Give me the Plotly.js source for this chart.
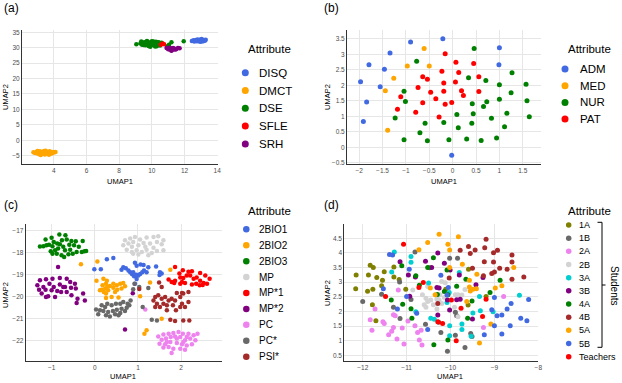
<!DOCTYPE html>
<html><head><meta charset="utf-8">
<script src="https://cdn.plot.ly/plotly-3.0.1.min.js"></script>
<style>html,body{margin:0;padding:0;background:#fff}#chart{width:622px;height:383px}</style>
</head><body><div id="chart"></div>
<script>
// ---------- Panel (a) ----------
const aCats = ['DISQ','DMCT','DSE','SFLE','SRH'];
const aColors = ['#4169E1','#FFA500','#008000','#FF0000','#800080'];
const a_DISQ_x = [12.45,12.55,12.6,12.7,12.75,12.8,12.85,12.9,12.95,13.0,13.05,13.1,13.15,13.2,13.25,13.3,12.65,12.9,13.1,13.0];
const a_DISQ_y = [32.2,32.4,32.0,32.5,32.1,32.7,32.3,32.0,32.6,32.2,32.8,32.4,32.1,32.5,32.3,32.6,32.3,32.5,32.2,31.9];
const a_DMCT_x = [2.75,2.85,2.95,3.0,3.05,3.1,3.15,3.2,3.25,3.3,3.35,3.4,3.45,3.5,3.55,3.6,3.65,3.7,3.75,3.8,3.85,3.9,3.95,4.0,4.1,3.2,3.5,3.7,3.0,3.35];
const a_DMCT_y = [-3.9,-4.1,-3.7,-4.3,-3.9,-4.5,-3.6,-4.0,-4.4,-3.8,-4.2,-3.5,-4.6,-4.0,-3.7,-4.3,-3.9,-4.1,-3.6,-4.4,-3.9,-4.2,-3.8,-4.0,-3.8,-4.8,-3.4,-4.7,-3.5,-4.0];
const a_DSE_x = [9.05,9.3,9.35,9.4,9.45,9.5,9.55,9.6,9.65,9.7,9.75,9.8,9.85,9.9,9.95,10.0,10.05,10.1,10.15,10.2,10.25,10.3,10.35,10.4,10.45,10.5,10.55,10.6,9.5,9.7,9.9,10.1,10.3,10.5,10.2,9.6,10.0,10.95,11.05,11.2,11.95,10.4];
const a_DSE_y = [31.1,31.4,32.0,31.0,31.6,31.2,31.8,30.8,31.5,31.1,31.9,30.6,31.3,31.7,31.0,32.1,31.4,30.8,31.6,31.2,31.9,30.5,31.3,31.7,31.0,31.5,31.2,31.6,30.9,32.2,30.3,32.0,31.0,30.7,30.4,31.3,30.9,30.5,31.0,31.8,32.1,31.8];
const a_SFLE_x = [10.55,10.65,10.75];
const a_SFLE_y = [31.0,31.35,31.15];
const a_SRH_x = [10.9,11.0,11.05,11.1,11.15,11.2,11.25,11.3,11.35,11.4,11.5,11.6,11.7,11.2,11.45];
const a_SRH_y = [29.9,29.5,30.0,29.4,29.8,29.2,29.7,29.9,29.4,29.7,29.6,29.9,29.8,29.0,29.4];

// ---------- Panel (b) ----------
const bCats = ['ADM','MED','NUR','PAT'];
const bColors = ['#4169E1','#FFA500','#008000','#FF0000'];
const b_ADM_x = [-0.9,-0.21,1.0,-1.34,-1.79,0.99,-1.46,-1.97,-1.55,-1.84,-1.91,-0.02];
const b_ADM_y = [3.40,3.51,3.22,3.05,2.67,2.67,2.52,2.12,1.96,1.46,0.83,-0.26];
const b_MED_x = [-0.61,-0.97,-0.5,-1.26,-1.44,-1.39];
const b_MED_y = [3.19,2.63,2.63,2.23,1.83,0.55];
const b_NUR_x = [0.46,-0.77,1.27,0.34,0.71,1.0,1.57,-1.04,1.25,-1.01,1.0,1.59,0.42,0.73,0.66,-1.23,0.09,0.44,1.16,1.64,0.83,-0.59,-0.19,0.41,0.12,1.11,-0.7,-1.04,-0.54,-0.08,0.3,0.61,0.94];
const b_NUR_y = [3.19,2.78,2.41,2.25,2.16,2.02,2.04,1.81,1.76,1.48,1.55,1.5,1.41,1.47,1.32,0.95,1.06,1.08,1.1,0.99,0.94,0.78,0.8,0.78,0.63,0.66,0.47,0.24,0.21,0.24,0.27,0.22,0.3];
const b_PAT_x = [-0.16,0.07,0.45,-0.23,0.13,-0.64,-0.54,0.56,-0.19,0.06,-0.74,-0.47,-0.19,0.19,0.56,-1.11,-0.36,0.23,-0.64,-0.02,-0.16,-1.18,-0.79,-0.29];
const b_PAT_y = [3.02,2.75,2.71,2.46,2.42,2.28,2.2,2.28,2.08,2.11,1.93,1.78,1.81,1.83,1.8,1.63,1.57,1.67,1.44,1.45,1.39,1.23,1.13,0.98];

// ---------- Panel (c) ----------
const cCats = ['2BIO1','2BIO2','2BIO3','MP','MP*1','MP*2','PC','PC*','PSI*'];
const cColors = ['#4169E1','#FFA500','#008000','#D3D3D3','#FF0000','#800080','#EE82EE','#696969','#A52A2A'];
const c_2BIO1_x = [-0.01,0.14,0.28,0.43,0.62,0.66,0.72,0.78,0.82,0.86,0.89,0.91,0.93,0.96,0.97,0.97,1.01,1.05,1.06,1.1,1.13,1.14,1.2,1.24,1.42,1.51,1.55,1.5,0.93];
const c_2BIO1_y = [-18.76,-18.76,-18.31,-18.25,-18.78,-18.67,-18.72,-18.82,-18.9,-18.98,-18.9,-19.08,-18.47,-19.01,-18.6,-19.2,-19.05,-18.98,-18.55,-18.9,-18.57,-18.82,-18.9,-18.67,-18.64,-18.9,-18.95,-19.02,-19.42];
const c_2BIO2_x = [0.2,0.28,0.26,0.18,0.29,0.35,0.24,0.16,0.43,0.51,0.59,0.66,0.7,0.62,0.52,0.47,0.26,0.39,0.55,0.26,0.12,0.21,0.31,0.43,-0.32,0.06,0.04,1.75,1.28,1.05,1.55,1.2,1.15];
const c_2BIO2_y = [-19.19,-19.29,-19.42,-19.49,-19.57,-19.52,-19.64,-19.69,-19.6,-19.49,-19.42,-19.39,-19.54,-19.64,-19.69,-19.8,-19.87,-20.02,-20.05,-20.07,-19.72,-19.8,-19.72,-19.42,-18.53,-18.41,-19.29,-18.78,-19.37,-19.99,-21.01,-21.54,-21.7];
const c_2BIO3_x = [-1.27,-1.19,-1.14,-1.12,-1.06,-1.02,-1.0,-0.98,-0.98,-0.95,-0.92,-0.88,-0.87,-0.85,-0.82,-0.81,-0.77,-0.76,-0.73,-0.71,-0.69,-0.68,-0.65,-0.61,-0.59,-0.57,-0.54,-0.51,-0.48,-0.44,-0.42,-0.37,-0.3,-0.28,-0.24,-0.2];
const c_2BIO3_y = [-17.73,-17.71,-17.41,-17.67,-17.64,-17.94,-17.33,-18.05,-17.71,-17.52,-17.9,-18.05,-17.59,-17.82,-17.18,-17.62,-18.12,-17.44,-17.74,-18.2,-17.9,-17.21,-17.41,-18.08,-17.64,-17.87,-17.47,-18.05,-17.67,-17.49,-17.97,-17.74,-17.97,-17.47,-17.94,-17.93];
const c_MP_x = [0.7,0.82,0.93,1.05,1.2,1.36,1.47,1.59,0.66,0.78,0.89,1.01,1.13,1.28,1.44,1.55,0.74,0.86,0.97,1.09,1.2,1.32,1.44,1.59,0.89,1.01,1.24,1.36,1.17,0.86];
const c_MP_y = [-17.44,-17.36,-17.29,-17.41,-17.32,-17.29,-17.26,-17.44,-17.67,-17.59,-17.52,-17.67,-17.56,-17.59,-17.52,-17.62,-17.87,-17.74,-17.9,-17.97,-17.87,-18.02,-17.93,-17.9,-18.05,-18.09,-18.12,-17.78,-17.74,-17.97];
const c_MP1_x = [1.86,2.04,2.25,2.44,2.56,2.66,1.71,1.78,1.86,1.98,2.05,2.13,2.02,2.09,2.21,2.29,2.36,2.44,2.52,2.6,2.35,2.25,2.43,1.84,1.98,2.5,2.17,1.96];
const c_MP1_y = [-18.66,-18.81,-18.85,-18.93,-19.04,-19.19,-19.23,-19.34,-19.29,-19.14,-19.16,-19.04,-19.34,-19.39,-19.04,-19.19,-19.14,-19.29,-19.39,-19.42,-19.42,-19.46,-19.49,-19.39,-19.42,-19.48,-18.88,-18.96];
const c_MP2_x = [-1.27,-1.13,-0.98,-0.81,-0.65,-1.33,-1.19,-1.05,-0.95,-0.81,-0.57,-0.46,-1.29,-1.14,-1.0,-0.87,-0.69,-0.55,-0.44,-1.23,-1.08,-0.92,-0.78,-0.65,-0.54,-0.27,-0.4,-0.23,-0.42,-1.13,-0.73,-0.85,0.7,0.88];
const c_MP2_y = [-19.26,-19.22,-19.19,-19.16,-19.19,-19.49,-19.57,-19.42,-19.57,-19.46,-19.34,-19.42,-19.69,-19.69,-19.72,-19.75,-19.57,-19.6,-19.64,-19.87,-19.99,-20.02,-19.8,-19.8,-19.95,-19.87,-20.1,-20.18,-20.3,-20.02,-19.57,-18.66,-21.5,-19.85];
const c_PC_x = [1.47,1.59,1.71,1.82,1.94,2.04,2.13,2.29,2.38,1.55,1.65,1.76,1.86,1.98,2.09,2.21,2.33,1.5,1.63,1.75,1.9,2.02,2.13,2.25,1.59,1.71,1.82,1.98,2.09,1.78,2.05,1.9,1.67,2.17,1.17];
const c_PC_y = [-21.82,-21.73,-21.7,-21.67,-21.62,-21.7,-21.85,-21.77,-21.7,-21.97,-21.92,-21.85,-21.82,-21.85,-22.0,-21.92,-22.0,-22.15,-22.18,-22.08,-22.12,-22.18,-22.23,-22.18,-22.33,-22.3,-22.38,-22.38,-22.43,-22.58,-22.08,-21.92,-22.08,-21.7,-20.59];
const c_PCs_x = [0.03,0.08,0.16,0.24,0.29,0.39,0.49,0.59,0.66,0.76,0.8,0.83,0.74,0.62,0.51,0.42,0.31,0.26,0.35,0.47,0.59,0.7,0.12,0.2,0.55,0.92,0.89,1.03,1.11,1.32,1.44,1.24];
const c_PCs_y = [-20.59,-20.81,-20.4,-20.48,-20.33,-20.4,-20.33,-20.33,-20.25,-20.33,-20.4,-20.18,-20.51,-20.56,-20.6,-20.66,-20.71,-20.86,-20.91,-20.81,-20.75,-20.66,-20.63,-20.66,-20.86,-19.42,-19.67,-19.57,-20.48,-21.06,-21.09,-19.61];
const c_PSI_x = [1.49,1.55,1.03,1.4,1.47,1.55,1.63,1.71,1.36,1.44,1.59,1.67,1.78,1.86,1.98,2.05,2.17,2.17,2.02,1.98,1.81,1.51,1.4,1.67,2.09,2.02,1.9,1.75,1.86,2.05,2.19,1.88];
const c_PSI_y = [-19.37,-19.57,-19.66,-20.02,-19.95,-20.1,-20.02,-20.18,-20.18,-20.33,-20.33,-20.4,-20.1,-20.18,-20.02,-19.87,-19.8,-20.25,-20.33,-20.48,-20.4,-20.48,-20.48,-20.63,-20.48,-19.84,-19.84,-21.06,-21.12,-21.09,-21.09,-20.63];

// ---------- Panel (d) ----------
const dCats = ['1A','1B','2A','2B','3A','3B','4A','4B','5A','5B','Teachers'];
const dColors = ['#808000','#696969','#EE82EE','#D3D3D3','#00CED1','#800080','#008000','#A52A2A','#FFA500','#4169E1','#FF0000'];
const d_1A_x = [-12.15,-12.16,-11.83,-11.76,-11.87,-11.68,-11.51,-11.55,-11.57,-11.77,-11.89,-11.78,-11.7,-11.29,-11.29,-11.17,-11.02,-10.11,-9.59,-9.6,-9.19];
const d_1A_y = [3.25,2.78,3.58,3.5,3.25,3.16,3.36,3.07,2.88,2.76,2.69,2.23,1.68,3.52,3.18,3.09,2.76,2.76,3.44,2.22,2.51];
const d_1B_x = [-12.0,-11.57,-11.3,-11.15,-10.9,-10.81,-11.16,-10.48,-10.57,-10.22,-10.07,-9.89,-9.67,-9.54,-9.51,-10.02,-9.84,-9.89,-9.86];
const d_1B_y = [2.34,2.59,2.14,1.76,2.41,4.03,3.01,3.49,1.56,1.28,0.64,1.19,0.77,1.25,1.14,3.82,3.82,1.97,1.85];
const d_2A_x = [-11.72,-11.83,-11.79,-11.54,-11.51,-11.41,-11.34,-11.3,-11.1,-11.06,-11.19,-11.3,-11.26,-10.97,-10.81,-10.75,-10.71,-10.65,-10.67,-9.25,-8.79,-11.22];
const d_2A_y = [2.08,1.72,1.36,1.65,1.59,1.2,1.32,1.45,1.43,0.89,2.73,1.89,1.85,1.67,1.51,1.28,1.02,0.85,1.36,1.45,2.51,1.06];
const d_2B_x = [-10.64,-10.56,-10.52,-10.45,-10.6,-10.56,-10.39,-10.31,-10.2,-10.12,-10.31,-10.24,-10.14,-9.89,-9.83,-9.74,-9.91,-9.83,-10.26,-10.2,-10.31,-10.52,-10.86,-9.67];
const d_2B_y = [2.57,2.45,2.34,2.39,2.23,2.14,2.23,2.42,3.02,2.98,2.53,2.57,2.48,2.57,2.57,2.56,2.14,1.82,2.39,2.27,2.08,2.85,2.73,2.75];
const d_3A_x = [-11.28,-11.34,-10.9,-10.9,-10.5,-10.79,-10.45,-10.37,-9.8,-10.03,-10.08,-10.02,-10.02,-9.74,-9.74,-9.53,-9.49,-9.34,-9.32,-9.03,-8.43];
const d_3A_y = [4.03,3.35,3.88,3.68,2.97,1.99,1.77,1.73,3.33,2.65,2.31,1.51,1.17,1.57,1.38,1.15,1.95,2.51,2.02,1.99,2.55];
const d_3B_x = [-11.15,-10.96,-10.8,-10.57,-10.29,-10.43,-10.31,-10.14,-10.01,-9.8,-10.93,-10.07,-9.86,-9.78,-10.02,-10.29,-9.5,-9.42,-9.26,-10.26];
const d_3B_y = [3.7,3.25,3.18,3.72,4.0,3.5,2.82,3.65,3.42,3.25,2.52,2.39,2.4,2.42,2.05,1.88,1.74,2.91,3.16,2.8];
const d_4A_x = [-11.11,-11.35,-11.09,-10.88,-10.9,-10.79,-10.71,-10.52,-10.39,-10.08,-10.14,-10.06,-10.3,-9.65,-9.86,-9.51,-10.06,-9.61,-9.1,-8.87,-10.38];
const d_4A_y = [3.56,2.39,2.25,1.77,2.09,3.22,2.9,3.5,3.84,3.42,2.68,2.57,2.58,3.1,2.86,2.36,1.02,1.77,2.65,3.07,0.86];
const d_4B_x = [-9.19,-9.59,-9.44,-9.22,-9.78,-9.55,-9.02,-8.93,-8.6,-9.23,-9.02,-8.6,-9.5,-8.88,-8.71,-9.0,-9.06,-8.33,-8.6,-9.25,-10.03,-10.29,-10.27];
const d_4B_y = [4.47,4.22,4.1,4.18,4.09,3.98,4.01,4.09,3.93,3.7,3.69,3.69,3.48,3.48,3.44,3.35,3.3,3.18,3.1,3.22,3.14,2.27,1.63];
const d_5A_x = [-10.26,-9.82,-10.52,-10.72,-10.06,-10.02,-9.73,-10.02,-9.4,-9.57,-9.57,-9.49,-9.41,-9.55,-8.98,-8.83,-8.56,-9.08,-9.34,-9.63,-10.35,-10.46];
const d_5A_y = [4.64,4.55,4.36,4.11,4.3,4.1,3.61,3.5,3.27,3.07,2.84,2.76,2.78,2.7,2.8,2.88,3.5,1.57,0.92,2.34,2.57,2.8];
const d_5B_x = [-11.39,-11.32,-11.53,-11.21,-10.94,-11.0,-10.77,-10.52,-10.22,-10.05,-10.08,-9.0,-8.62,-8.71,-8.83,-9.06,-8.94,-8.4,-8.26,-8.22,-8.64,-9.0,-8.83,-9.23];
const d_5B_y = [3.95,3.93,2.78,2.08,3.44,2.51,1.94,1.38,3.24,2.82,2.56,2.48,2.27,2.08,1.88,2.06,1.85,1.77,1.68,2.41,1.51,1.51,1.23,1.2];
const d_T_x = [-11.07,-11.48,-10.72,-10.62,-10.29,-10.18,-9.98,-9.76,-9.87,-9.27,-9.19];
const d_T_y = [4.3,2.51,2.82,2.99,1.65,1.59,2.39,2.11,1.0,1.83,2.42];

// ---------- build ----------
const W = 622, H = 383;
const F = 'Liberation Sans, Arial, sans-serif';
const X = px => px / W;
const Y = py => 1 - py / H;
const traces = [], annotations = [], shapes = [];

function addPanel(cats, colors, xs, ys, xa, ya, size) {
  cats.forEach((c, i) => traces.push({
    type: 'scatter', mode: 'markers', x: xs[i], y: ys[i], xaxis: xa, yaxis: ya, name: c,
    marker: {color: colors[i], size: size, line: {width: 0}}, showlegend: false, hoverinfo: 'skip'
  }));
}
addPanel(aCats, aColors, [a_DISQ_x,a_DMCT_x,a_DSE_x,a_SFLE_x,a_SRH_x], [a_DISQ_y,a_DMCT_y,a_DSE_y,a_SFLE_y,a_SRH_y], 'x', 'y', 4.5);
addPanel(bCats, bColors, [b_ADM_x,b_MED_x,b_NUR_x,b_PAT_x], [b_ADM_y,b_MED_y,b_NUR_y,b_PAT_y], 'x2', 'y2', 5);
addPanel(cCats, cColors, [c_2BIO1_x,c_2BIO2_x,c_2BIO3_x,c_MP_x,c_MP1_x,c_MP2_x,c_PC_x,c_PCs_x,c_PSI_x], [c_2BIO1_y,c_2BIO2_y,c_2BIO3_y,c_MP_y,c_MP1_y,c_MP2_y,c_PC_y,c_PCs_y,c_PSI_y], 'x3', 'y3', 4.5);
addPanel(dCats, dColors, [d_1A_x,d_1B_x,d_2A_x,d_2B_x,d_3A_x,d_3B_x,d_4A_x,d_4B_x,d_5A_x,d_5B_x,d_T_x], [d_1A_y,d_1B_y,d_2A_y,d_2B_y,d_3A_y,d_3B_y,d_4A_y,d_4B_y,d_5A_y,d_5B_y,d_T_y], 'x4', 'y4', 5);

function ann(px, py, text, size, opts) {
  annotations.push(Object.assign({xref: 'paper', yref: 'paper', x: X(px), y: Y(py), text: text, showarrow: false,
    xanchor: 'center', yanchor: 'middle', font: {family: F, size: size, color: '#000'}}, opts || {}));
}

function addLegend(cats, colors, titleX, titleY, mx, tx, y0, step, msize, fsize) {
  traces.push({type: 'scatter', mode: 'markers', x: cats.map(() => mx), y: cats.map((c, i) => y0 + i * step),
    xaxis: 'x5', yaxis: 'y5', marker: {color: colors, size: msize, line: {width: 0}}, showlegend: false, hoverinfo: 'skip', cliponaxis: false});
  cats.forEach((c, i) => ann(tx, y0 + i * step, c, fsize, {xanchor: 'left'}));
  ann(titleX, titleY, 'Attribute', 11.5, {xanchor: 'left'});
}
addLegend(aCats, aColors, 245.5, 49.3, 245.3, 256.5, 72.7, 17.8, 7, 11.5);
addLegend(bCats, bColors, 565.5, 49.3, 565, 578, 69, 16.7, 7, 11.5);
addLegend(cCats, cColors, 245.5, 211, 246.3, 257, 229.3, 15.92, 6.5, 10);
addLegend(dCats, dColors, 565.5, 211, 568.7, 576.5, 225, 13.17, 5.5, 9);

// panel labels
ann(2, 8.5, '(a)', 12, {xanchor: 'left'});
ann(322, 8.5, '(b)', 12, {xanchor: 'left'});
ann(2, 205, '(c)', 12, {xanchor: 'left'});
ann(322, 205, '(d)', 12, {xanchor: 'left'});
// axis titles
const axT = {color: '#222'};
[[120,181],[444,181],[123.5,376.7],[450,376.7]].forEach(p => ann(p[0], p[1], 'UMAP1', 7.5));
[[5,97],[327,97],[5,295],[327,293]].forEach(p => ann(p[0], p[1], 'UMAP2', 7.5, {textangle: -90}));
// bracket
const L = {color: '#000', width: 1};
shapes.push({type: 'line', xref: 'paper', yref: 'paper', x0: X(602), x1: X(602), y0: Y(222.3), y1: Y(347.3), line: L});
shapes.push({type: 'line', xref: 'paper', yref: 'paper', x0: X(597.5), x1: X(602), y0: Y(222.3), y1: Y(222.3), line: L});
shapes.push({type: 'line', xref: 'paper', yref: 'paper', x0: X(597.5), x1: X(602), y0: Y(347.3), y1: Y(347.3), line: L});
shapes.push({type: 'line', xref: 'paper', yref: 'paper', x0: X(602), x1: X(605.5), y0: Y(285), y1: Y(285), line: L});
ann(615, 285, 'Students', 10, {textangle: 90});

function axis(d0, d1, range, dtick, anchor, isY) {
  return {domain: isY ? [Y(d1), Y(d0)] : [X(d0), X(d1)], range: range, dtick: dtick, tick0: 0, anchor: anchor,
    showline: true, linecolor: '#333', linewidth: 1, mirror: false, showgrid: true, gridcolor: '#E6E6E6', gridwidth: 1,
    zeroline: false, ticks: '', tickfont: {family: F, size: 6.5, color: '#4D4D4D'}, fixedrange: true};
}
const layout = {
  width: W, height: H, margin: {l: 0, r: 0, t: 0, b: 0}, paper_bgcolor: '#fff', plot_bgcolor: 'rgba(0,0,0,0)',
  showlegend: false, font: {family: F},
  xaxis: axis(22, 218, [2.05, 14.05], 2, 'y'),
  yaxis: axis(30, 164, [-7.7, 35.75], 5, 'x', true),
  xaxis2: axis(347, 541, [-2.26, 1.89], 0.5, 'y2'),
  yaxis2: axis(30, 164, [-0.54, 3.79], 0.5, 'x2', true),
  xaxis3: axis(25.7, 221.7, [-1.6, 2.94], 1, 'y3'),
  yaxis3: axis(224, 361, [-22.94, -16.7], 1, 'x3', true),
  xaxis4: axis(344.3, 538.3, [-12.42, -8.0], 1, 'y4'),
  yaxis4: axis(224, 361, [0.306, 4.99], 0.5, 'x4', true),
  xaxis5: {domain: [0, 1], range: [0, W], visible: false, fixedrange: true, anchor: 'y5'},
  yaxis5: {domain: [0, 1], range: [H, 0], visible: false, fixedrange: true, anchor: 'x5'},
  annotations: annotations, shapes: shapes
};
Plotly.newPlot('chart', traces, layout, {displayModeBar: false, staticPlot: true});
</script>
</body></html>
